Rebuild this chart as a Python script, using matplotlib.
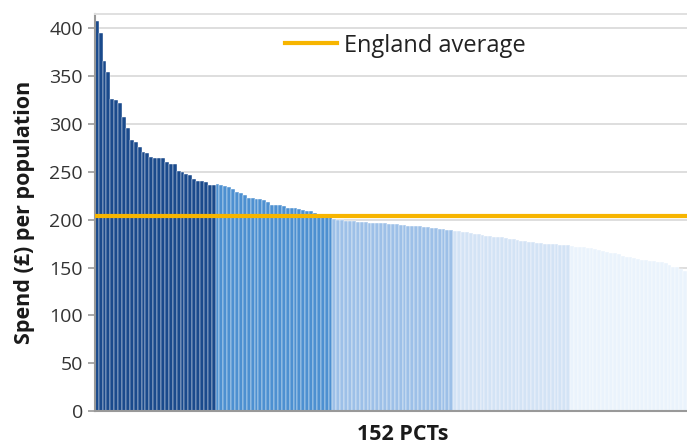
import numpy as np
import matplotlib
matplotlib.use("Agg")
import matplotlib.pyplot as plt

plt.rcParams['font.family'] = ['Open Sans', 'DejaVu Sans']

# spend per population, PCTs sorted high to low, split into quintiles
q1 = [408, 395, 366, 354, 326, 325, 322, 307, 296, 283, 281, 276, 271, 270, 265,
      264, 264, 264, 260, 258, 258, 251, 250, 248, 247, 242, 240, 240, 239, 236, 236]
q2 = [237, 236, 235, 234, 232, 229, 228, 226, 223, 223, 222, 222, 221, 218, 215,
      215, 215, 214, 212, 212, 212, 211, 210, 209, 209, 207, 206, 205, 204, 203]
q3 = [201, 200, 200, 199, 199, 199, 198, 198, 198, 197, 197, 197, 197, 197, 196,
      195, 195, 194, 194, 193, 193, 193, 193, 192, 192, 191, 191, 190, 190, 189, 189]
q4 = [188, 188, 187, 187, 186, 185, 185, 184, 183, 183, 182, 182, 182, 181, 180,
      180, 179, 178, 178, 177, 177, 176, 176, 175, 175, 175, 175, 174, 174, 174]
q5 = [173, 172, 172, 171, 170, 170, 169, 168, 167, 166, 165, 165, 164, 162, 161,
      161, 160, 159, 158, 158, 157, 157, 156, 156, 155, 153, 151, 151, 148, 146]
quintiles = [q1, q2, q3, q4, q5]
colours = ['#1a4a8c', '#4d90d1', '#9dc0e8', '#d3e3f5', '#eaf3fc']
england_avg = 204

fig = plt.figure(figsize=(6.87, 4.46), dpi=100)
ax = fig.add_axes([0.138, 0.078, 0.862, 0.891])

start = 0
for vals, col in zip(quintiles, colours):
    x = np.arange(start, start + len(vals))
    ax.bar(x, vals, width=1.0, color=col, edgecolor='white', linewidth=0.3, zorder=2)
    start += len(vals)

ax.axhline(england_avg, color='#f7b500', linewidth=3, zorder=3, label='England average')

ax.set_xlim(-0.5, start - 0.5)
ax.set_ylim(0, 415)
ax.set_yticks(range(0, 401, 50))
ax.set_xticks([])
ax.yaxis.grid(True, color='#dedede', linewidth=1.4, zorder=0)
ax.set_axisbelow(True)

ax.spines['right'].set_visible(False)
ax.spines['top'].set_color('#e0e0e0')
ax.spines['top'].set_linewidth(1.4)
ax.spines['left'].set_color('#999999')
ax.spines['left'].set_linewidth(1.5)
ax.spines['bottom'].set_color('#999999')
ax.spines['bottom'].set_linewidth(1.5)
ax.tick_params(axis='y', colors='#999999', labelcolor='#333333', labelsize=14,
               length=5, width=1.2)

ax.set_ylabel('Spend (£) per population', fontsize=15.5, fontweight='bold',
              color='#1a1a1a', labelpad=10)
ax.set_xlabel('152 PCTs', fontsize=15.5, fontweight='bold', color='#1a1a1a',
              labelpad=9, x=0.52)

leg = ax.legend(loc='center', bbox_to_anchor=(0.525, 0.92), frameon=False,
                fontsize=17, handlelength=2.2, handletextpad=0.3)
for t in leg.get_texts():
    t.set_color('#222222')

fig.savefig('out.png', dpi=100)
